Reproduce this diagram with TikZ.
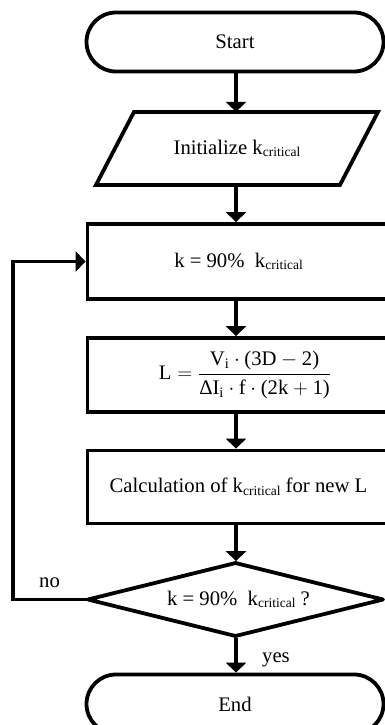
\documentclass[tikz,border=0pt]{standalone}
\usepackage{amsmath}
\usepackage{fontspec}
\setmainfont{Liberation Serif}
\usetikzlibrary{arrows.meta}
\newcommand{\crit}{\raisebox{-0.13em}{\fontsize{13.5}{13.5}\selectfont critical}}
\begin{document}
\begin{tikzpicture}[x=1pt,y=-1pt,
  font=\fontsize{20.7}{24}\selectfont,
  term/.style={draw, line width=3.8pt, rounded corners=29.5pt, minimum width=297pt, minimum height=59pt, inner sep=0pt},
  procbox/.style={draw, line width=3.8pt, minimum width=302pt, minimum height=75pt, inner sep=0pt},
  helper/.style={inner sep=0pt, outer sep=0pt},
  shapeline/.style={line width=3.8pt},
  arr/.style={line width=3.8pt, -{Triangle[width=20pt,length=10pt]}},
  lbl/.style={anchor=base west, inner sep=0pt}]
\useasboundingbox (0,0) rectangle (385,725);
\coordinate (ax) at (236,0);
\coordinate (lx) at (13,0);

\node[term] (start) at (235,42) {Start};

\node[helper, minimum width=244pt, minimum height=73pt] (para) at (237,148.4) {Initialize k\crit};
\draw[shapeline] ([xshift=19pt]para.north west) -- ([xshift=19pt]para.north east)
  -- ([xshift=-19pt]para.south east) -- ([xshift=-19pt]para.south west) -- cycle;

\node[procbox, minimum height=75pt] (box3) at (238.5,261.5) {k = 90\%\ \ k\crit};
\node[procbox, minimum height=74pt] (box4) at (238.5,375)
  {\hspace*{13pt}$\textrm{L}=\dfrac{\textrm{V}_{\textrm{i}}\cdot\textrm{(3D}-\textrm{2)}}{\textrm{ΔI}_{\textrm{i}}\cdot\textrm{f}\cdot\textrm{(2k}+\textrm{1)}}$};
\node[procbox, minimum height=73pt] (box5) at (238.5,487) {Calculation of k\crit{} for new L};

\node[helper, minimum width=295pt, minimum height=73pt] (dec) at (235.5,599.5) {\hspace*{6pt}k = 90\%\ \ k\crit{} ?};
\draw[shapeline, line join=round] (dec.north) -- (dec.east) -- (dec.south) -- (dec.west) -- cycle;

\node[term] (end) at (235,704) {End};

\node[lbl] (no) at (39,587) {no};
\node[lbl] (yes) at (262,662) {yes};

\draw[arr] (start.south -| ax) -- (para.north -| ax);
\draw[arr, shorten <=1.9pt] (para.south -| ax) -- (box3.north -| ax);
\draw[arr] (box3.south -| ax) -- (box4.north -| ax);
\draw[arr] (box4.south -| ax) -- (box5.north -| ax);
\draw[arr, shorten >=1.9pt] (box5.south -| ax) -- (dec.north -| ax);
\draw[arr, shorten <=1.9pt] (dec.south -| ax) -- (end.north -| ax);
\draw[arr] (dec.west) -- (dec.west -| lx) |- (box3.west);
\end{tikzpicture}
\end{document}
